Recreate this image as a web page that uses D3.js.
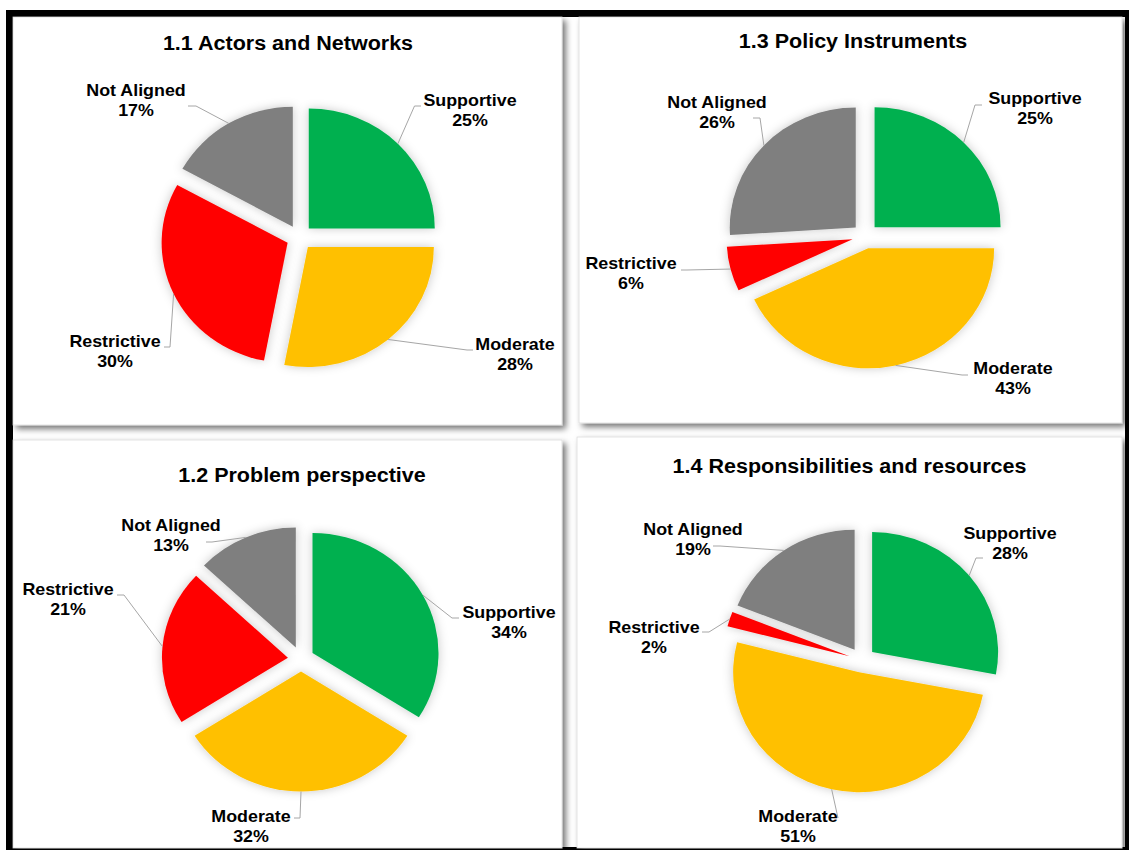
<!DOCTYPE html>
<html>
<head>
<meta charset="utf-8">
<script src="https://cdn.jsdelivr.net/npm/d3@7"></script>
<style>
  html, body { margin: 0; padding: 0; background: #ffffff; }
  svg { display: block; }
  text { font-family: "Liberation Sans", Arial, Helvetica, sans-serif; font-weight: bold; fill: #000; }
</style>
</head>
<body>
<script>
// Alignment categories, in the order the slices run clockwise from 12 o'clock
const categories = ["Supportive", "Moderate", "Restrictive", "Not Aligned"];
const sliceColors = ["#00B050", "#FFC000", "#FF0000", "#7F7F7F"];

// Share of each category (percent) per dimension
const actorsNetworks = [25, 28, 30, 17];
const policyInstruments = [25, 43, 6, 26];
const problemPerspective = [34, 32, 21, 13];
const responsibilitiesResources = [28, 51, 2, 19];

const chartTitles = [
  "1.1 Actors and Networks",
  "1.3 Policy Instruments",
  "1.2 Problem perspective",
  "1.4 Responsibilities and resources"
];
const chartValues = [actorsNetworks, policyInstruments, problemPerspective, responsibilitiesResources];

// Panel layout: card rectangle, title centre, pie centre and data-label placement
// label: [centre x, first-line centre y, leader end x, leader end y, elbow x]
const layout = [
  { rect: [13, 17, 549, 408], title: [288, 43], center: [299.5, 237.4],
    labels: [[470, 100, 421, 106, 414.5], [515, 344, 473, 350, 467], [115, 341, 164, 347, 170], [136, 90, 188, 106, 196]] },
  { rect: [579, 17, 543, 406], title: [853, 41], center: [865.3, 236.1],
    labels: [[1035, 98, 982, 105, 975], [1013, 368, 968, 375, 962], [631, 263, 681, 270, 687], [717, 102, 753, 118, 760]] },
  { rect: [13, 440, 549, 408], title: [302, 475], center: [301, 659],
    labels: [[509, 612, 459, 618, 452], [251, 816, 294, 818, 300], [68, 589, 117, 595, 124], [171, 525, 206, 542, 212]] },
  { rect: [577, 437, 545, 411], title: [849.5, 466], center: [862, 660],
    labels: [[1010, 533, 983, 558, 976], [798, 816, 838, 818, 838], [654, 627, 702, 632, 709], [693, 529, 713, 546, 720]] }
];

const W = 1129, H = 850;
const radius = 120;
const xStretch = 1.05;   // slight horizontal stretch of the whole figure
const explode = 12.5;    // distance each slice is pulled out from the centre

const svg = d3.select("body").append("svg").attr("width", W).attr("height", H);
const defs = svg.append("defs");

const cardShadow = defs.append("filter").attr("id", "cardShadow")
  .attr("x", "-5%").attr("y", "-5%").attr("width", "115%").attr("height", "115%");
cardShadow.append("feDropShadow").attr("dx", 3.5).attr("dy", 3.5)
  .attr("stdDeviation", 3).attr("flood-color", "#000").attr("flood-opacity", 0.55);

const sliceShadow = defs.append("filter").attr("id", "sliceShadow")
  .attr("x", "-30%").attr("y", "-30%").attr("width", "160%").attr("height", "160%");
sliceShadow.append("feDropShadow").attr("dx", 0).attr("dy", 0)
  .attr("stdDeviation", 5).attr("flood-color", "#000").attr("flood-opacity", 0.22);

// Black outer frame with white inner area
svg.append("rect").attr("x", 6).attr("y", 10).attr("width", W - 6).attr("height", H - 10).attr("fill", "#000");
svg.append("rect").attr("x", 13).attr("y", 17).attr("width", 1112).attr("height", 830).attr("fill", "#fff");

const pie = d3.pie().sort(null).value(d => d.value);
const arc = d3.arc().innerRadius(0).outerRadius(radius);

layout.forEach((L, i) => {
  const data = categories.map((c, k) => ({ category: c, value: chartValues[i][k], color: sliceColors[k] }));
  const arcs = pie(data);
  const g = svg.append("g");

  // card
  g.append("rect")
    .attr("x", L.rect[0]).attr("y", L.rect[1])
    .attr("width", L.rect[2]).attr("height", L.rect[3])
    .attr("fill", "#fff").attr("stroke", "#d9d9d9").attr("stroke-width", 0.75)
    .attr("filter", "url(#cardShadow)");

  // title
  g.append("text")
    .attr("transform", `translate(${L.title[0]},${L.title[1] + 7}) scale(${xStretch},1)`)
    .attr("text-anchor", "middle")
    .style("font-size", "20.5px")
    .text(chartTitles[i]);

  // exploded pie
  const pg = g.append("g")
    .attr("transform", `translate(${L.center[0]},${L.center[1]}) scale(${xStretch},1)`);
  pg.selectAll("path.slice").data(arcs).join("path")
    .attr("class", "slice")
    .attr("d", arc)
    .attr("fill", d => d.data.color)
    .attr("filter", "url(#sliceShadow)")
    .attr("transform", d => {
      const m = (d.startAngle + d.endAngle) / 2;
      return `translate(${explode * Math.sin(m)},${-explode * Math.cos(m)})`;
    });

  // leader lines from the outer edge of each slice at its mid-angle
  arcs.forEach((d, k) => {
    const m = (d.startAngle + d.endAngle) / 2;
    const ax = L.center[0] + xStretch * (radius + explode) * Math.sin(m);
    const ay = L.center[1] - (radius + explode) * Math.cos(m);
    const lab = L.labels[k];
    const line = d3.line();
    g.append("path")
      .attr("d", line([[lab[2], lab[3]], [lab[4], lab[3]], [ax, ay]]))
      .attr("fill", "none").attr("stroke", "#A6A6A6").attr("stroke-width", 1);
  });

  // data labels: category name and percentage
  arcs.forEach((d, k) => {
    const lab = L.labels[k];
    const t = g.append("text")
      .attr("transform", `translate(${lab[0]},${lab[1] + 6}) scale(${xStretch},1)`)
      .attr("text-anchor", "middle")
      .style("font-size", "17px");
    t.append("tspan").attr("x", 0).attr("dy", 0).text(d.data.category);
    t.append("tspan").attr("x", 0).attr("dy", 20).text(d.data.value + "%");
  });
});
</script>
</body>
</html>
